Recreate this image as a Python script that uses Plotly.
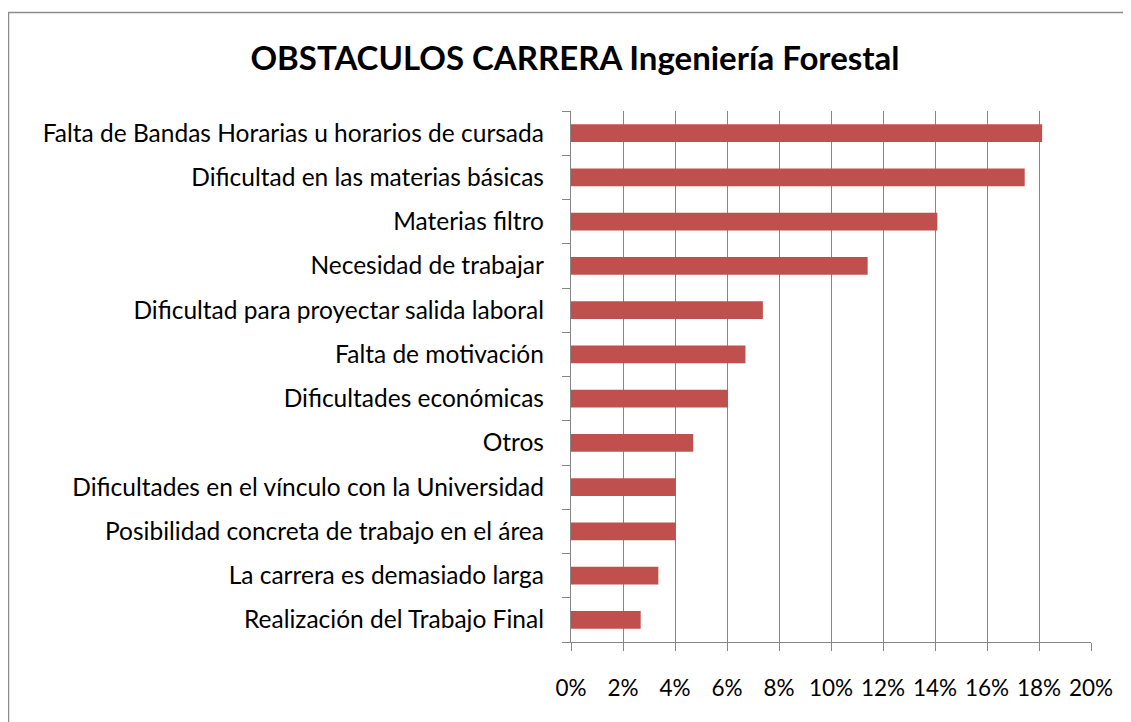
import plotly.graph_objects as go

categories = [
    "Falta de Bandas Horarias u horarios de cursada",
    "Dificultad en las materias básicas",
    "Materias filtro",
    "Necesidad de trabajar",
    "Dificultad para proyectar salida laboral",
    "Falta de motivación",
    "Dificultades económicas",
    "Otros",
    "Dificultades en el vínculo con la Universidad",
    "Posibilidad concreta de trabajo en el área",
    "La carrera es demasiado larga",
    "Realización del Trabajo Final",
]
values = [18.12, 17.45, 14.09, 11.41, 7.38, 6.71, 6.04, 4.70, 4.03, 4.03, 3.36, 2.68]
x_ticks = [0, 2, 4, 6, 8, 10, 12, 14, 16, 18, 20]
x_tick_labels = [f"{v}%" for v in x_ticks]
title_text = "OBSTACULOS CARRERA Ingeniería Forestal"

W, H = 1131, 722
OFF = 8  # page offset of the rendered figure
L, T = 571 - OFF, 111 - OFF
pw, ph = 520, 531
R, B = W - L - pw, H - T - ph

FONT = "Lato"
GRID = "#868686"

fig = go.Figure(
    go.Bar(
        x=[v / 100 for v in values],
        y=categories,
        orientation="h",
        marker=dict(color="#C0504D", line=dict(width=0)),
        width=0.4,
        hoverinfo="x+y",
    )
)

fig.update_layout(
    width=W,
    height=H,
    margin=dict(l=L, r=R, t=T, b=B, autoexpand=False),
    paper_bgcolor="white",
    plot_bgcolor="white",
    showlegend=False,
    font=dict(family=FONT, size=24, color="black"),
    title=dict(
        text=title_text,
        font=dict(family=FONT, size=33, color="black", weight="bold"),
        x=(575 - 571) / pw,
        xref="paper",
        xanchor="center",
        y=1 - (58 - OFF) / H,
        yref="container",
        yanchor="middle",
    ),
    xaxis=dict(
        range=[0, 0.20],
        tickvals=[v / 100 for v in x_ticks],
        ticktext=x_tick_labels,
        showgrid=True,
        gridcolor=GRID,
        gridwidth=1.3,
        showline=True,
        linecolor=GRID,
        linewidth=1.3,
        ticks="outside",
        ticklen=8,
        tickcolor=GRID,
        tickwidth=1.3,
        zeroline=False,
        ticklabelstandoff=18,
        tickfont=dict(family=FONT, size=22.5, color="black"),
        fixedrange=True,
    ),
    yaxis=dict(
        categoryorder="array",
        categoryarray=categories[::-1],
        showgrid=False,
        showline=True,
        linecolor=GRID,
        linewidth=1.3,
        ticks="outside",
        tickson="boundaries",
        ticklen=8,
        tickcolor=GRID,
        tickwidth=1.3,
        ticklabelstandoff=21,
        tickfont=dict(family=FONT, size=24.5, color="black"),
        fixedrange=True,
    ),
)

# outer chart-area border (extends beyond the visible page on right/bottom)
fig.add_shape(
    type="rect",
    xref="paper",
    yref="paper",
    x0=(8.5 - 571) / pw,
    x1=(1200 - 571) / pw,
    y0=-(800 - 642) / ph,
    y1=(642 - 12.5) / ph,
    line=dict(color="#8c8c8c", width=1.5),
    fillcolor="rgba(0,0,0,0)",
    layer="below",
)

fig.write_html("out.html")
